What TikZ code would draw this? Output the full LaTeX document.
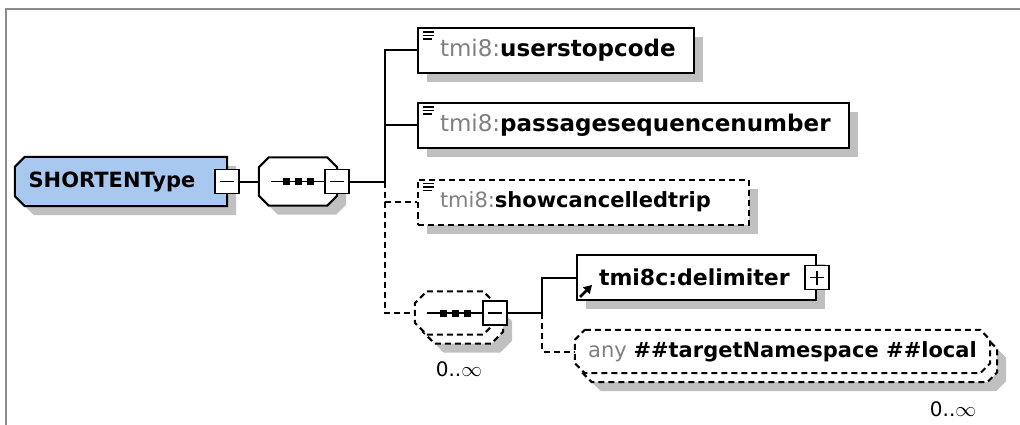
\documentclass[tikz,border=0pt]{standalone}
\usepackage{fontspec}
\setmainfont{DejaVu Sans}
\usetikzlibrary{shadows,arrows.meta,backgrounds}

\definecolor{typeblue}{RGB}{168,200,240}
\definecolor{nsgray}{RGB}{128,128,128}
\definecolor{shadegray}{RGB}{192,192,192}
\definecolor{framegray}{RGB}{140,140,140}

\newcommand\elemfont{\fontsize{22}{26}\selectfont}
\newcommand\occfont{\fontsize{20}{24}\selectfont}
\newcommand\elname[2]{\mbox{\textcolor{nsgray}{#1:}\textbf{#2}}}
\newcommand\simpleicon[1]{\draw[line width=1.5pt] ([shift={(6,5)}]#1.north west) -- ++(11,0) ([shift={(6,8.5)}]#1.north west) -- ++(11,0) ([shift={(6,12)}]#1.north west) -- ++(9,0);}
\newcommand\seqdots[1]{\draw[line width=1.6pt] ([xshift=12pt]#1.west) -- ([xshift=-12pt]#1.east);
  \foreach \d in {-12,0,12} \fill ([xshift=\d]#1.center) +(-3.5,-3.5) rectangle +(3.5,3.5);}
% outline of a node with cut corners: node, left cut, right cut, dx, dy
\newcommand\octpath[5]{([xshift=#4+#2,yshift=-#5]#1.north west) -- ([xshift=#4-#3,yshift=-#5]#1.north east) -- ([xshift=#4,yshift=-#5-#3]#1.north east) -- ([xshift=#4,yshift=-#5+#3]#1.south east) -- ([xshift=#4-#3,yshift=-#5]#1.south east) -- ([xshift=#4+#2,yshift=-#5]#1.south west) -- ([xshift=#4,yshift=-#5+#2]#1.south west) -- ([xshift=#4,yshift=-#5-#2]#1.north west) -- cycle}

\tikzset{
  dropsh/.style={drop shadow={shadow xshift=9pt,shadow yshift=-9pt,fill=shadegray,opacity=1}},
  conn/.style={line width=2pt},
  optional/.style={dash pattern=on 6pt off 4pt},
  elem/.style={draw,line width=2pt,fill=white,minimum height=45pt,inner xsep=22pt,inner ysep=0pt,align=left,anchor=west,font=\elemfont,dropsh},
  octa/.style={rectangle,inner sep=0pt},
  octline/.style={line width=2pt,fill=white},
  minusbox/.style={draw,fill=white,line width=1.8pt,minimum size=24pt,inner sep=0pt,
    path picture={\draw[line width=1.4pt] ([xshift=5pt]path picture bounding box.west) -- ([xshift=-5pt]path picture bounding box.east);}},
  plusbox/.style={minusbox,
    path picture={\draw[line width=1.4pt] ([xshift=5pt]path picture bounding box.west) -- ([xshift=-5pt]path picture bounding box.east) ([yshift=5pt]path picture bounding box.south) -- ([yshift=-5pt]path picture bounding box.north);}}
}

\begin{document}
\begin{tikzpicture}[x=1pt,y=-1pt]
\useasboundingbox (0,0) rectangle (1020,425);
\draw[framegray,line width=2pt] (1020,9.5) -- (6,9.5) -- (6,425);

% complex type and its sequence
\node[octa,minimum width=212pt,minimum height=49pt,font=\fontsize{21}{25}\selectfont\bfseries] (root) at (121,181.5) {SHORTENType\hspace*{18pt}};
\node[minusbox] (rootminus) at (root.east) {};
\node[octa,minimum width=78pt,minimum height=48pt] (seq) at (298,181.5) {};
\node[minusbox] (seqminus) at (seq.east) {};
\seqdots{seq}
\coordinate (trunk) at (385,181.5);
\draw[conn] (rootminus) -- (seq);
\draw[conn] (seqminus) -- (trunk);

% elements
\node[elem,text width=232pt,font=\fontsize{23}{27}\selectfont] (user) at (417,50.5) {\elname{tmi8}{userstopcode}};
\node[elem,text width=387pt,font=\fontsize{23}{27}\selectfont] (passage) at (417,125.5) {\elname{tmi8}{passagesequencenumber}};
\node[elem,optional,text width=287pt,font=\fontsize{21}{25}\selectfont] (cancel) at (417,202) {\elname{tmi8}{showcancelledtrip}};
\simpleicon{user}
\simpleicon{passage}
\simpleicon{cancel}

% inner sequence 0..oo
\node[octa,minimum width=80pt,minimum height=43pt] (seq2) at (455,313) {};
\node[minusbox] (seq2minus) at (seq2.east) {};
\seqdots{seq2}
\node[font=\occfont] (seq2occ) at (459,369) {0..$\infty$};
\coordinate (branch) at (542,313);

\draw[conn] (trunk) |- (user.west);
\draw[conn] (trunk) |- (passage.west);
\draw[conn,optional] (trunk) |- (cancel.west);
\draw[conn,optional] (trunk) |- (seq2.west);

\node[elem,text width=195pt] (delim) at (576,277.5) {\textbf{tmi8c:delimiter}};
\node[plusbox] (delimplus) at (delim.east) {};
\draw[line width=2.6pt,-{Triangle[length=8pt,width=9pt]}] ([shift={(4,-4)}]delim.south west) -- ++(12,-12);

\node[octa,minimum width=415pt,minimum height=43pt,font=\fontsize{21}{25}\selectfont] (any) at (782.5,351.5) {\textcolor{nsgray}{any}\ \textbf{\#\#targetNamespace \#\#local}};
\node[font=\occfont] (anyocc) at (953,409) {0..$\infty$};

\draw[conn] (seq2minus) -- (branch);
\draw[conn] (branch) |- (delim.west);
\draw[conn,optional] (branch) |- (any.west);

\begin{scope}[on background layer]
\fill[shadegray] \octpath{root}{10pt}{0pt}{9pt}{9pt};
\draw[octline,fill=typeblue] \octpath{root}{10pt}{0pt}{0pt}{0pt};
\fill[shadegray] \octpath{seq}{10pt}{10pt}{9pt}{9pt};
\draw[octline] \octpath{seq}{10pt}{10pt}{0pt}{0pt};
\fill[shadegray] \octpath{seq2}{12pt}{12pt}{17pt}{18pt};
\draw[octline,optional] \octpath{seq2}{12pt}{12pt}{8pt}{9pt};
\draw[octline,optional] \octpath{seq2}{12pt}{12pt}{0pt}{0pt};
\fill[shadegray] \octpath{any}{10pt}{10pt}{16pt}{18pt};
\draw[octline,optional] \octpath{any}{10pt}{10pt}{7pt}{9pt};
\draw[octline,optional] \octpath{any}{10pt}{10pt}{0pt}{0pt};
\end{scope}
\end{tikzpicture}
\end{document}
